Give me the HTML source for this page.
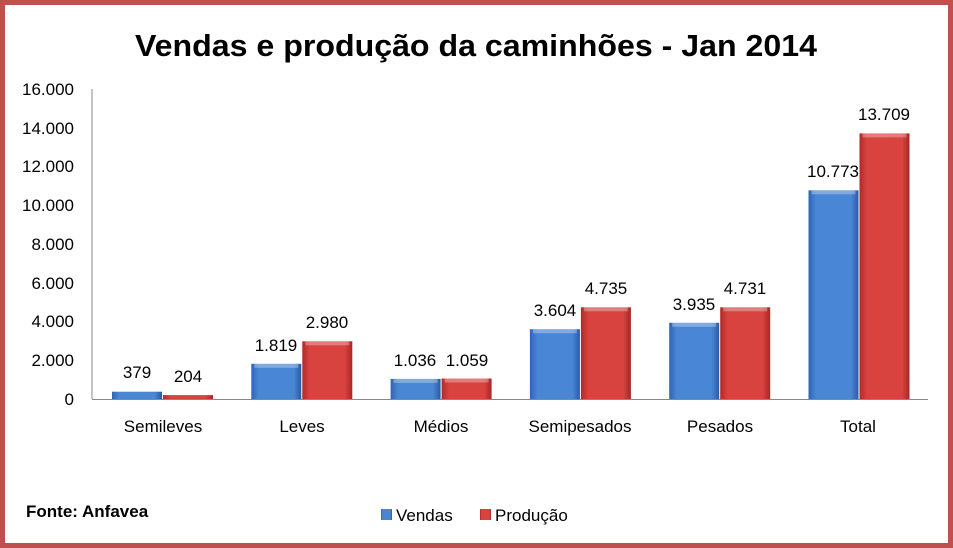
<!DOCTYPE html>
<html><head><meta charset="utf-8"><style>
body{margin:0;width:953px;height:548px;overflow:hidden;background:#fff}
svg{display:block;font-family:"Liberation Sans",sans-serif}
</style></head><body>
<svg width="953" height="548" viewBox="0 0 953 548">
<defs>
<linearGradient id="b" x1="0" x2="1" y1="0" y2="0"><stop offset="0" stop-color="#2e64b8"/><stop offset="0.15" stop-color="#4a86d6"/><stop offset="0.85" stop-color="#4a86d6"/><stop offset="1" stop-color="#2a5aa6"/></linearGradient>
<linearGradient id="r" x1="0" x2="1" y1="0" y2="0"><stop offset="0" stop-color="#b02a28"/><stop offset="0.15" stop-color="#d84340"/><stop offset="0.85" stop-color="#d84340"/><stop offset="1" stop-color="#a82624"/></linearGradient>
</defs>
<rect x="2.5" y="2.5" width="948" height="543" fill="#fff" stroke="#c0504d" stroke-width="5"/>
<text x="476" y="56" text-anchor="middle" font-size="31" font-weight="bold" fill="#000" textLength="682" lengthAdjust="spacingAndGlyphs">Vendas e produção da caminhões - Jan 2014</text>
<g font-size="17" fill="#000" text-anchor="end">
<text x="74" y="405">0</text><text x="74" y="366">2.000</text><text x="74" y="327">4.000</text><text x="74" y="289">6.000</text><text x="74" y="250">8.000</text><text x="74" y="211">10.000</text><text x="74" y="172">12.000</text><text x="74" y="134">14.000</text><text x="74" y="95">16.000</text>
</g>
<line x1="92" y1="89" x2="92" y2="399" stroke="#888"/>
<g>
<rect x="112" y="391.7" width="50" height="7.3" fill="url(#b)"/>
<rect x="163" y="395.1" width="50" height="3.9" fill="url(#r)"/>
<rect x="251.3" y="363.8" width="50" height="35.2" fill="url(#b)"/>
<rect x="302.3" y="341.3" width="50" height="57.7" fill="url(#r)"/>
<rect x="390.6" y="378.9" width="50" height="20.1" fill="url(#b)"/>
<rect x="441.6" y="378.5" width="50" height="20.5" fill="url(#r)"/>
<rect x="529.9" y="329.2" width="50" height="69.8" fill="url(#b)"/>
<rect x="580.9" y="307.3" width="50" height="91.7" fill="url(#r)"/>
<rect x="669.2" y="322.8" width="50" height="76.2" fill="url(#b)"/>
<rect x="720.2" y="307.3" width="50" height="91.7" fill="url(#r)"/>
<rect x="808.5" y="190.3" width="50" height="208.7" fill="url(#b)"/>
<rect x="859.5" y="133.4" width="50" height="265.6" fill="url(#r)"/>
</g>
<g fill="#fff" opacity="0.3">
<rect x="254.3" y="363.8" width="44" height="4"/><rect x="305.3" y="341.3" width="44" height="4"/>
<rect x="393.6" y="378.9" width="44" height="4"/><rect x="444.6" y="378.5" width="44" height="4"/>
<rect x="532.9" y="329.2" width="44" height="4"/><rect x="583.9" y="307.3" width="44" height="4"/>
<rect x="672.2" y="322.8" width="44" height="4"/><rect x="723.2" y="307.3" width="44" height="4"/>
<rect x="811.5" y="190.3" width="44" height="4"/><rect x="862.5" y="133.4" width="44" height="4"/>
</g>
<line x1="92" y1="399.5" x2="928" y2="399.5" stroke="#888"/>
<g font-size="17" text-anchor="middle" fill="#000">
<text x="137" y="378">379</text><text x="188" y="382">204</text>
<text x="276" y="351">1.819</text><text x="327" y="328">2.980</text>
<text x="415" y="366">1.036</text><text x="467" y="366">1.059</text>
<text x="555" y="316">3.604</text><text x="606" y="294">4.735</text>
<text x="694" y="310">3.935</text><text x="745" y="294">4.731</text>
<text x="833" y="177">10.773</text><text x="884" y="120">13.709</text>
</g>
<g font-size="17" text-anchor="middle" fill="#000">
<text x="163" y="432">Semileves</text><text x="302" y="432">Leves</text><text x="441" y="432">Médios</text><text x="580" y="432">Semipesados</text><text x="720" y="432">Pesados</text><text x="858" y="432">Total</text>
</g>
<text x="26" y="517" font-size="17" font-weight="bold">Fonte: Anfavea</text>
<rect x="381" y="509" width="11" height="11" fill="url(#b)"/><text x="396" y="521" font-size="17">Vendas</text>
<rect x="480" y="509" width="11" height="11" fill="url(#r)"/><text x="495" y="521" font-size="17">Produção</text>
</svg>
</body></html>
